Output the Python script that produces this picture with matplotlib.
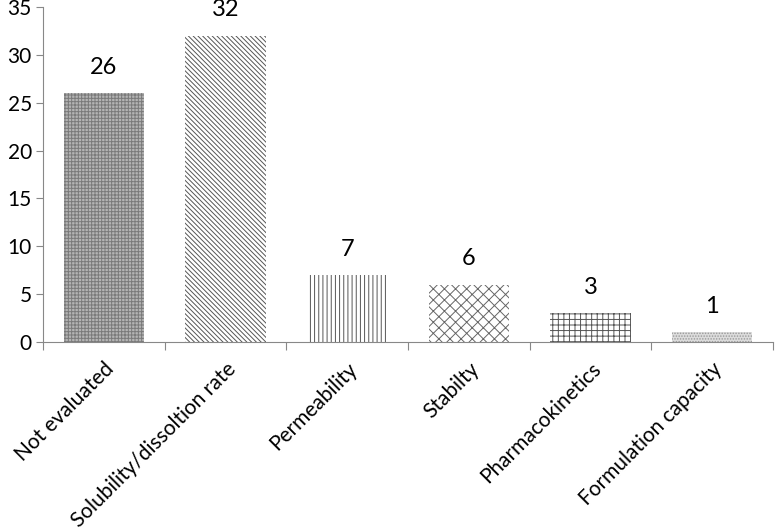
import matplotlib
matplotlib.use("Agg")
import matplotlib.pyplot as plt
import numpy as np

# categories and counts
categories = ["Not evaluated", "Solubility/dissoltion rate", "Permeability",
              "Stabilty", "Pharmacokinetics", "Formulation capacity"]
counts = [26, 32, 7, 6, 3, 1]
hatches = ["+++++", "\\\\\\\\\\\\\\", "||||", "xxx", "+++", "......"]
faces = ["#b4b4b4", "white", "white", "white", "white", "#dcdcdc"]
edges = ["#7a7a7a", "#555555", "#555555", "#666666", "#555555", "#999999"]

plt.rcParams["font.family"] = ["Lato", "DejaVu Sans"]
plt.rcParams["hatch.linewidth"] = 0.7

fig = plt.figure(figsize=(7.77, 5.30), dpi=100)
ax = fig.add_axes([0.0553, 0.3547, 0.9397, 0.632])

x = np.arange(len(categories))
for i in range(len(categories)):
    ax.bar(x[i], counts[i], width=0.66, color=faces[i], edgecolor=edges[i],
           hatch=hatches[i], linewidth=0)
    ax.text(x[i], counts[i] + 1.6, str(counts[i]), ha="center", va="bottom",
            fontsize=17)

ax.set_xlim(-0.5, len(categories) - 0.5)
ax.set_ylim(0, 35)
ax.set_yticks(range(0, 36, 5))
ax.tick_params(axis="y", labelsize=15, length=5, color="#888888", pad=3)

# ticks between categories, labels at centres
ax.set_xticks(np.arange(-0.5, len(categories), 1.0))
ax.set_xticklabels([])
ax.set_xticks(x, minor=True)
ax.set_xticklabels(categories, minor=True, rotation=45, ha="right",
                   rotation_mode="anchor", fontsize=15)
ax.tick_params(axis="x", which="major", length=6, color="#888888")
ax.tick_params(axis="x", which="minor", length=0, pad=12)

for s in ["top", "right"]:
    ax.spines[s].set_visible(False)
ax.spines["left"].set_color("#888888")
ax.spines["bottom"].set_color("#888888")

fig.savefig("out.png", dpi=100)
